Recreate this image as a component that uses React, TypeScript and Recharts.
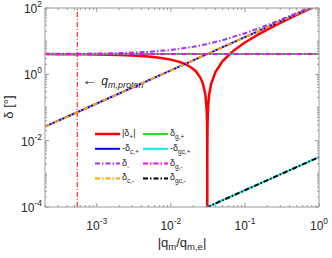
import React from 'react';
import { LineChart, Line, XAxis, YAxis, ReferenceLine, Legend } from 'recharts';

// |q_m / q_m,e| sample points and the curves
const Q_PLUS = [
  2e-4, 3e-4, 5e-4, 7e-4, 1e-3, 1.5e-3, 2e-3, 3e-3, 5e-3, 7e-3, 1e-2, 1.3e-2, 1.6e-2, 1.9e-2,
  2.2e-2, 2.5e-2, 2.7e-2, 2.9e-2, 3.0e-2, 3.05e-2, 3.08e-2, 3.1e-2, 3.106e-2, 3.11e-2, 3.13e-2,
  3.16e-2, 3.2e-2, 3.3e-2, 3.5e-2, 4e-2, 5e-2, 7e-2, 0.1, 0.15, 0.2, 0.3, 0.5, 0.7, 1,
];
const DELTA_PLUS = [
  4.07, 4.06, 4.03, 4.01, 3.97, 3.9, 3.84, 3.7, 3.44, 3.18, 2.78, 2.38, 1.99, 1.59,
  1.2, 0.8, 0.536, 0.272, 0.14, 0.074, 0.034, 0.008, 1e-6, 0.0052, 0.032,
  0.071, 0.124, 0.256, 0.52, 1.18, 2.5, 5.14, 9.1, 15.7, 22.3, 35.5, 61.9, 88.3, 127.9,
];

const Q_MINUS = [2e-4, 5e-4, 1e-3, 2e-3, 5e-3, 1e-2, 2e-2, 3e-2, 5e-2, 0.1, 0.2, 0.3, 0.5, 0.7, 1];
const DELTA_MINUS = [4.13, 4.17, 4.23, 4.36, 4.76, 5.42, 6.74, 8.06, 10.7, 17.3, 30.5, 43.7, 70.1, 96.5, 136.1];

const Q_C = [2e-4, 1e-3, 1e-2, 0.1, 1];
const DELTA_C = [0.0264, 0.132, 1.32, 13.2, 132];

const Q_G = [2e-4, 1e-3, 1e-2, 0.1, 1];
const DELTA_G = [4.1, 4.1, 4.1, 4.1, 4.1];

const Q_GC = [0.03, 0.1, 0.3, 1];
const DELTA_GC = [9.6e-5, 3.2e-4, 9.6e-4, 3.2e-3];

const Q_PROTON = 5.45e-4;

const X_LABELS = [1e-3, 1e-2, 1e-1, 1];
const Y_LABELS = [1e-4, 1e-2, 1, 100];

const rows = (qs: number[], vs: number[]) => qs.map((q, i) => ({ q, v: vs[i] }));

const minorTicks = (lo: number, hi: number, from: number, to: number) => {
  const out: number[] = [];
  for (let e = lo; e <= hi; e++) {
    for (let m = 1; m < 10; m++) {
      const v = Number((m * Math.pow(10, e)).toPrecision(6));
      if (v >= from && v <= to) out.push(v);
    }
  }
  return out;
};

const X_TICKS = minorTicks(-4, 0, 2e-4, 1);
const Y_TICKS = minorTicks(-4, 2, 1e-4, 100);

const W = 332;
const H = 258;
const LEFT = 45;
const RIGHT = 319;
const TOP = 8;
const BOTTOM = 207;

const AXIS = '#9a9a9a';
const TEXT = '#262626';
const FONT = '"Liberation Sans", Arial, sans-serif';
const DASHDOT = '5 2 1.5 2';

const isLabel = (list: number[], v: number) => list.some((t) => Math.abs(Math.log10(t) - Math.log10(v)) < 1e-6);

const BottomTick = (props: any) => {
  const { x, payload } = props;
  const v = payload.value;
  const major = isLabel(X_LABELS, v);
  return (
    <g>
      <line x1={x} x2={x} y1={BOTTOM} y2={BOTTOM - (major ? 4 : 2)} stroke={AXIS} />
      {major && (
        <text x={x} y={BOTTOM + 23} textAnchor="middle" fontSize={12} fill={TEXT} fontFamily={FONT}>
          10
          <tspan dy={-6} fontSize={8.5}>{Math.round(Math.log10(v))}</tspan>
        </text>
      )}
    </g>
  );
};

const TopTick = (props: any) => {
  const major = isLabel(X_LABELS, props.payload.value);
  return <line x1={props.x} x2={props.x} y1={TOP} y2={TOP + (major ? 4 : 2)} stroke={AXIS} />;
};

const LeftTick = (props: any) => {
  const { y, payload } = props;
  const v = payload.value;
  const major = isLabel(Y_LABELS, v);
  return (
    <g>
      <line x1={LEFT} x2={LEFT + (major ? 4 : 2)} y1={y} y2={y} stroke={AXIS} />
      {major && (
        <text x={42} y={y + 5} textAnchor="end" fontSize={12} fill={TEXT} fontFamily={FONT}>
          10
          <tspan dy={-6} fontSize={8.5}>{Math.round(Math.log10(v))}</tspan>
        </text>
      )}
    </g>
  );
};

const RightTick = (props: any) => {
  const major = isLabel(Y_LABELS, props.payload.value);
  return <line x1={RIGHT} x2={RIGHT - (major ? 4 : 2)} y1={props.y} y2={props.y} stroke={AXIS} />;
};

// legend entries, two columns of four
const LEGEND = [
  { pre: '|', sub: '+', post: '|', color: '#ff0000', dash: undefined, width: 2.5 },
  { pre: '-', sub: 'c,+', post: '', color: '#0000ff', dash: undefined, width: 2 },
  { pre: '', sub: '-', post: '', color: '#a035f0', dash: DASHDOT, width: 2 },
  { pre: '', sub: 'c,-', post: '', color: '#ffa500', dash: DASHDOT, width: 2 },
  { pre: '', sub: 'g,+', post: '', color: '#22dd22', dash: undefined, width: 2 },
  { pre: '-', sub: 'gc,+', post: '', color: '#00eeee', dash: undefined, width: 2 },
  { pre: '', sub: 'g,-', post: '', color: '#ff00ff', dash: DASHDOT, width: 2 },
  { pre: '', sub: 'gc,-', post: '', color: '#000000', dash: DASHDOT, width: 2 },
];

const LegendBox = () => (
  <svg width={130} height={62} style={{ display: 'block' }}>
    {LEGEND.map((it, i) => {
      const col = Math.floor(i / 4);
      const y = 8 + (i % 4) * 14.8;
      const x0 = col === 0 ? 5 : 53;
      return (
        <g key={i}>
          <line x1={x0} x2={x0 + 25} y1={y} y2={y} stroke={it.color} strokeWidth={it.width} strokeDasharray={it.dash} />
          <text x={x0 + 27} y={y + 2} fontSize={9} fill={TEXT} fontFamily={FONT}>
            {it.pre}δ
            <tspan dy={3} fontSize={6.5}>{it.sub}</tspan>
            {it.post && <tspan dy={-3}>{it.post}</tspan>}
          </text>
        </g>
      );
    })}
  </svg>
);

export default function App() {
  return (
    <div style={{ position: 'absolute', left: 0, top: 0, width: W, height: H, background: '#fff' }}>
      <LineChart width={W} height={H} margin={{ top: 7, right: 0, bottom: 0, left: 0 }}>
        <XAxis
          dataKey="q"
          type="number"
          scale="log"
          domain={[2e-4, 1]}
          allowDataOverflow
          ticks={X_TICKS}
          interval={0}
          height={51}
          stroke={AXIS}
          tickSize={0}
          tickMargin={0}
          tick={BottomTick}
          label={{
            content: () => (
              <text x={(LEFT + RIGHT) / 2} y={247} textAnchor="middle" fontSize={13} fill={TEXT} fontFamily={FONT}>
                |q
                <tspan dy={3} fontSize={9.5}>m</tspan>
                <tspan dy={-3}>/q</tspan>
                <tspan dy={3} fontSize={9.5}>m,e</tspan>
                <tspan dy={-3}>|</tspan>
              </text>
            ),
          }}
        />
        <XAxis
          xAxisId="top"
          dataKey="q"
          orientation="top"
          type="number"
          scale="log"
          domain={[2e-4, 1]}
          allowDataOverflow
          ticks={X_TICKS}
          interval={0}
          height={1}
          stroke={AXIS}
          tickSize={0}
          tickMargin={0}
          tick={TopTick}
        />
        <YAxis
          type="number"
          scale="log"
          domain={[1e-4, 100]}
          allowDataOverflow
          ticks={Y_TICKS}
          interval={0}
          width={45}
          stroke={AXIS}
          tickSize={0}
          tickMargin={0}
          tick={LeftTick}
          label={{
            content: () => (
              <text
                x={13}
                y={107}
                transform="rotate(-90 13 107)"
                textAnchor="middle"
                fontSize={13}
                fill={TEXT}
                fontFamily={FONT}
              >
                δ [°]
              </text>
            ),
          }}
        />
        <YAxis
          yAxisId="right"
          orientation="right"
          type="number"
          scale="log"
          domain={[1e-4, 100]}
          allowDataOverflow
          ticks={Y_TICKS}
          interval={0}
          width={13}
          stroke={AXIS}
          tickSize={0}
          tickMargin={0}
          tick={RightTick}
        />

        <ReferenceLine
          x={Q_PROTON}
          stroke="#ff0000"
          strokeWidth={1}
          strokeDasharray="5 2 1 2"
          label={{
            content: (p: any) => {
              const x = (p.viewBox?.x ?? 77) + 5;
              return (
                <text x={x} y={85} fontSize={15} fill={TEXT} fontFamily={FONT}>
                  ←
                  <tspan dx={4} fontSize={12} fontStyle="italic">q</tspan>
                  <tspan dy={3} fontSize={9} fontStyle="italic">m,proton</tspan>
                </text>
              );
            },
          }}
        />

        <Line data={rows(Q_PLUS, DELTA_PLUS)} dataKey="v" stroke="#ff0000" strokeWidth={2.5} dot={false} activeDot={false} isAnimationActive={false} />
        <Line data={rows(Q_C, DELTA_C)} dataKey="v" stroke="#0000ff" strokeWidth={2} dot={false} activeDot={false} isAnimationActive={false} />
        <Line data={rows(Q_C, DELTA_C)} dataKey="v" stroke="#ffa500" strokeWidth={2} strokeDasharray={DASHDOT} dot={false} activeDot={false} isAnimationActive={false} />
        <Line data={rows(Q_MINUS, DELTA_MINUS)} dataKey="v" stroke="#a035f0" strokeWidth={2} strokeDasharray={DASHDOT} dot={false} activeDot={false} isAnimationActive={false} />
        <Line data={rows(Q_G, DELTA_G)} dataKey="v" stroke="#22dd22" strokeWidth={2} dot={false} activeDot={false} isAnimationActive={false} />
        <Line data={rows(Q_G, DELTA_G)} dataKey="v" stroke="#ff00ff" strokeWidth={2} strokeDasharray={DASHDOT} dot={false} activeDot={false} isAnimationActive={false} />
        <Line data={rows(Q_GC, DELTA_GC)} dataKey="v" stroke="#00eeee" strokeWidth={2} dot={false} activeDot={false} isAnimationActive={false} />
        <Line data={rows(Q_GC, DELTA_GC)} dataKey="v" stroke="#000000" strokeWidth={2} strokeDasharray={DASHDOT} dot={false} activeDot={false} isAnimationActive={false} />

        <Legend
          layout="horizontal"
          verticalAlign="middle"
          align="center"
          wrapperStyle={{ left: 90, top: 126, width: 130, height: 62 }}
          content={() => <LegendBox />}
        />
      </LineChart>
    </div>
  );
}
